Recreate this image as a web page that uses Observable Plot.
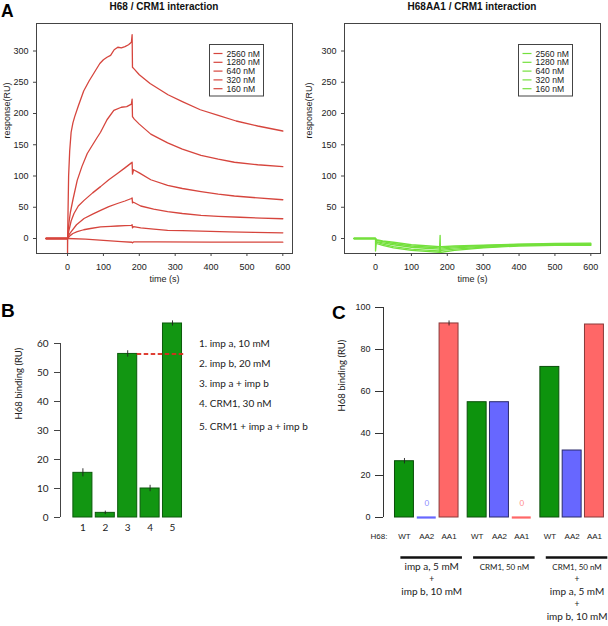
<!DOCTYPE html>
<html><head><meta charset="utf-8">
<script src="https://cdn.jsdelivr.net/npm/d3@7"></script>
<script src="https://cdn.jsdelivr.net/npm/@observablehq/plot@0.6"></script>
<style>
body{margin:0;background:#fff;}
#root{position:relative;width:608px;height:626px;overflow:hidden;background:#fff;}
#root > svg{position:absolute;}
</style></head>
<body><div id="root"></div>
<script>
// ---------- Panel A data (time s, response RU) ----------
const concLabels = ["2560 nM","1280 nM","640 nM","320 nM","160 nM"];
const xTicksA = [0,100,200,300,400,500,600];
const yTicksA = [0,50,100,150,200,250,300];

const red2560 = [[-60,0],[0,0],[0,-24],[1,30],[3,100],[6,140],[10,170],[15,185],[20,195],[30,212],[45,236],[60,252],[75,266],[90,280],[100,286],[110,290],[120,293],[130,302],[140,306],[150,305],[160,307],[170,310],[178,314],[180,326],[181,274],[186,271],[200,262],[230,248],[280,230],[320,219],[370,206],[420,197],[470,188],[530,180],[600,172]];
const red1280 = [[-60,0],[0,0],[2,15],[5,30],[8,42],[15,62],[27,93],[40,115],[55,136],[70,150],[83,162],[92,170],[110,190],[129,205],[150,210],[165,211],[178,215],[180,223],[181,195],[186,191],[200,183],[232,167],[279,153],[320,143],[372,133],[420,127],[465,122],[530,118],[600,115]];
const red640 = [[-60,0],[0,0],[2,8],[4,13],[10,28],[18,40],[30,52],[46,61],[70,73],[92,83],[115,94],[139,104],[160,113],[178,121],[180,122],[181,103],[184,110],[200,105],[232,94],[279,85],[320,80],[372,75],[420,71],[465,68],[530,65],[600,62]];
const red320 = [[-60,0],[0,0],[2,3],[5,7],[13,13],[25,22],[46,32],[70,39],[92,45],[115,51],[139,56],[160,60],[178,64],[180,65],[181,57],[184,58],[204,52],[240,47],[279,43],[320,40],[372,37],[420,35.5],[480,34],[540,32.5],[600,31.6]];
const red160 = [[-60,0],[0,0],[3,2],[8,5],[15,8],[27,11],[45,14],[64,16],[92,18.6],[120,19.5],[139,20],[160,20.5],[178,21],[180,22],[181,17],[184,19],[204,17],[240,15],[279,13],[320,12.5],[372,11.7],[450,10.5],[520,9.8],[600,9.1]];
const red0 = [[-60,0],[0,0],[50,-1],[100,-3],[150,-5],[180,-6],[181,-7],[184,-5.5],[250,-5.5],[400,-5.8],[600,-5.9]];

const green2560 = [[-60,0],[0,0],[0,-20],[2,-8],[20,-11],[50,-15],[100,-19],[150,-21],[178,-22],[180,5],[181,-24],[184,-22],[220,-19],[300,-15],[400,-12],[500,-11],[600,-11]];
const green1280 = [[-60,0],[0,0],[2,-6],[20,-9],[50,-13],[100,-17],[150,-19],[178,-20],[181,-21],[184,-19],[220,-17],[300,-14],[400,-11],[500,-10],[600,-10]];
const green640 = [[-60,0],[0,0],[2,-5],[20,-7],[50,-10],[100,-14],[150,-16],[178,-17],[184,-17],[220,-15],[300,-12.5],[400,-10],[500,-9.5],[600,-9]];
const green320 = [[-60,0],[0,0],[2,-3],[20,-5],[50,-8],[100,-12],[150,-14],[178,-15],[184,-15],[220,-13.5],[300,-11.5],[400,-9.5],[500,-9],[600,-8.5]];
const green160 = [[-60,0],[0,0],[2,-2],[20,-4],[50,-6],[100,-10],[150,-12],[178,-13],[184,-13],[220,-12],[300,-10.5],[400,-9],[500,-8],[600,-7.5]];

// ---------- Panel B data ----------
const bCategories = [1,2,3,4,5];
const bValues = [15.4, 1.6, 56.4, 10.0, 66.9];
const bErrors = [1.4, 0.6, 1.1, 1.1, 0.9];
const yTicksB = [0,10,20,30,40,50,60];
const bLegend = ["1. imp a, 10 mM","2. imp b, 20 mM","3. imp a + imp b","4. CRM1, 30 nM","5. CRM1 + imp a + imp b"];

// ---------- Panel C data ----------
const cGroups = [0,1,2];
const cMutants = ["WT","AA2","AA1"];
const cValues = [[26.8, 0, 92.4],[54.9, 54.9, 0],[71.7, 31.9, 91.9]];
const cErrors = [[1.3, 0, 1.2],[0,0,0],[0,0,0]];
const yTicksC = [0,20,40,60,80,100];
const cCaptions = [["imp a, 5 mM","+","imp b, 10 mM"],["CRM1, 50 nM"],["CRM1, 50 nM","+","imp a, 5 mM","+","imp b, 10 mM"]];

// ---------- styles ----------
const redLine = "#d6453d", greenLine = "#74e03c";
const cFill = {WT:"#0d930d", AA2:"#6767ff", AA1:"#ff6767"};
const cStroke = {WT:"#0a4f0a", AA2:"#2a2a6a", AA1:"#8a3a3a"};
const cZeroText = {AA2:"#8a8aff", AA1:"#ff8a8a"};
const helv = "Liberation Sans, Arial, Helvetica, sans-serif";
const myriad = "Lato, 'Open Sans', sans-serif";

const root = document.getElementById("root");
function place(svg, left, top){ svg.style.left = left+"px"; svg.style.top = top+"px"; root.appendChild(svg); }

function toRows(series){ return series.flatMap((s,k)=>s.map(([t,v])=>({t,v,k}))); }

function panelA(series, color, ml){
  const rows = toRows(series);
  return Plot.plot({
    width: 304, height: 295,
    marginLeft: ml, marginRight: 304-ml-256, marginTop: 23, marginBottom: 42,
    x: {domain: [-86.5, 627]},
    y: {domain: [-24, 344]},
    style: {fontFamily: helv, fontSize: "9px", color: "#222", background: "transparent"},
    marks: [
      Plot.line(rows, {x:"t", y:"v", z:"k", stroke: color, strokeWidth: 1.3, clip: true}),
      Plot.frame({stroke:"#444"}),
      Plot.axisX({ticks: xTicksA, tickSize: 3, tickPadding: 7, label: null, stroke:"#444"}),
      Plot.axisY({ticks: yTicksA, tickSize: 3, tickPadding: 5, label: null, stroke:"#444"}),
      Plot.text(["time (s)"], {frameAnchor:"bottom", dy: 28, fontSize: 9}),
      Plot.text(["response(RU)"], {frameAnchor:"left", dx: ml===36 ? -29 : -35, rotate: -90, fontSize: 9})
    ]
  });
}

place(panelA([red2560, red1280, red640, red320, red160, red0], redLine, 36), 0, 0);
place(panelA([green2560, green1280, green640, green320, green160], greenLine, 40), 304, 0);

// ---------- Panel B ----------
const bHalf = 0.425;
const bRows = bCategories.map((c,i)=>({c, v:bValues[i], e:bErrors[i]}));
const bRef = bRows[2];
const plotB = Plot.plot({
  width: 200, height: 250,
  marginLeft: 60, marginRight: 5.6, marginTop: 48, marginBottom: 28,
  x: {domain: [0, 6], axis: null},
  y: {domain: [0, 60]},
  style: {fontFamily: myriad, fontSize: "10px", color: "#222", background: "transparent"},
  marks: [
    Plot.rectY(bRows, {x1: d=>d.c-bHalf, x2: d=>d.c+bHalf, y1: 0, y2: "v", fill: "#129612", stroke: "#0b5a0b", strokeWidth: 1}),
    Plot.ruleX(bRows, {x: "c", y1: d=>d.v-d.e, y2: d=>d.v+d.e, stroke: "#222", strokeWidth: 0.9}),
    Plot.ruleY([bRef], {y: "v", x1: d=>d.c+bHalf, x2: bCategories[4]+bHalf+0.12, stroke: "#dc2a1e", strokeOpacity: 0.9, strokeWidth: 2, strokeDasharray: "4.5,2.5"}),
    Plot.ruleX([0], {y1: yTicksB[0], y2: yTicksB[yTicksB.length-1], stroke: "#444"}),
    Plot.axisY({ticks: yTicksB, tickSize: 6, tickPadding: 6, label: null, stroke: "#444"}),
    Plot.text(bRows, {x: "c", text: d=>String(d.c), frameAnchor: "bottom", dy: 13}),
    Plot.text(["H68 binding (RU)"], {frameAnchor: "left", dx: -42, dy: -11, rotate: -90, fontSize: 9.5})
  ]
});
place(plotB, 0, 295);

// ---------- Panel C ----------
const groupStep = 3.26, cHalf = 0.425;
const cRows = cGroups.flatMap(g => cMutants.map((m,j)=>({g, m, pos: g*groupStep + j, v: cValues[g][j], e: cErrors[g][j]})));
const capRows = cGroups.flatMap(g => cCaptions[g].map((t,k)=>({g, k, t, size: t.startsWith("CRM1") ? 8 : (t === "+" ? 8.5 : 10)})));
const capMarks = [0,1,2,3,4].map(k => Plot.text(capRows.filter(r=>r.k===k), {x: d=>d.g*groupStep+1.22, text: "t", fontSize: "size", frameAnchor: "bottom", dy: 52 + 12.6*k, fontFamily: myriad}));
const plotC = Plot.plot({
  width: 304, height: 331,
  marginLeft: 79, marginRight: 0, marginTop: 12, marginBottom: 109,
  x: {domain: [-0.94, 9.15], axis: null},
  y: {domain: [0, 100]},
  style: {fontFamily: helv, fontSize: "9px", color: "#222", background: "transparent"},
  marks: [
    Plot.rectY(cRows.filter(d=>d.v>0), {x1: d=>d.pos-cHalf, x2: d=>d.pos+cHalf, y1: 0, y2: "v", fill: d=>cFill[d.m], stroke: d=>cStroke[d.m], strokeWidth: 1}),
    Plot.ruleY(cRows.filter(d=>d.v===0), {y: "v", x1: d=>d.pos-cHalf, x2: d=>d.pos+cHalf, stroke: d=>cFill[d.m], strokeWidth: 2.2}),
    Plot.text(cRows.filter(d=>d.v===0), {x: "pos", y: "v", text: d=>String(d.v), dy: -14, fill: d=>cZeroText[d.m], fontSize: 8, fontFamily: myriad}),
    Plot.ruleX(cRows.filter(d=>d.e>0), {x: "pos", y1: d=>d.v-d.e, y2: d=>d.v+d.e, stroke: "#222", strokeWidth: 0.9}),
    Plot.ruleX([-0.94], {y1: yTicksC[0], y2: yTicksC[yTicksC.length-1], stroke: "#333"}),
    Plot.axisY({ticks: yTicksC, tickSize: 8, tickPadding: 5, label: null, stroke: "#333"}),
    Plot.text(cRows, {x: "pos", text: "m", frameAnchor: "bottom", dy: 21, fontSize: 8}),
    Plot.text(["H68:"], {frameAnchor: "bottom-left", dx: -13, dy: 21, fontSize: 8}),
    Plot.ruleY(cGroups, {y: () => 0, x1: g=>g*groupStep-0.16, x2: g=>g*groupStep+2.6, dy: 40, stroke: "#111", strokeWidth: 2.6}),
    ...capMarks,
    Plot.text(["H68 binding (RU)"], {frameAnchor: "left", dx: -42, dy: -1, rotate: -90, fontSize: 9.5, fontFamily: myriad})
  ]
});
place(plotC, 304, 295);

// ---------- overlay annotations ----------
const ov = d3.create("svg").attr("width", 608).attr("height", 626).style("left","0px").style("top","0px").style("pointer-events","none");
const letter = (t,x,y,fs)=>ov.append("text").attr("x",x).attr("y",y).attr("font-family",helv).attr("font-weight","bold").attr("font-size",fs).text(t);
letter("A",1,16.5,17.5); letter("B",1,316.5,19); letter("C",332,318.5,19);
const title = (t,x)=>ov.append("text").attr("x",x).attr("y",10.3).attr("text-anchor","middle").attr("font-family",helv).attr("font-weight","bold").attr("font-size",10).attr("fill","#111").text(t);
title("H68 / CRM1 interaction", 164); title("H68AA1 / CRM1 interaction", 472);
function legend(x0, y0, color){
  ov.append("rect").attr("x",x0+0.5).attr("y",y0+0.5).attr("width",54).attr("height",51.5).attr("fill","#fff").attr("stroke","#444");
  concLabels.forEach((lab,i)=>{
    const cy = y0 + 9.5 + 8.8*i;
    ov.append("line").attr("x1",x0+4.5).attr("x2",x0+13.5).attr("y1",cy).attr("y2",cy).attr("stroke",color).attr("stroke-width",1.2);
    ov.append("text").attr("x",x0+17.5).attr("y",cy+3.1).attr("font-family",helv).attr("font-size",8.6).attr("fill","#222").text(lab);
  });
}
legend(209, 44, redLine); legend(518, 44, greenLine);
const bBase = [347.3, 367, 387, 407, 429.6];
bLegend.forEach((t,i)=>ov.append("text").attr("x",199).attr("y",bBase[i]).attr("font-family",myriad).attr("font-size",10).attr("fill","#222").text(t));
root.appendChild(ov.node());
</script>
</body></html>
